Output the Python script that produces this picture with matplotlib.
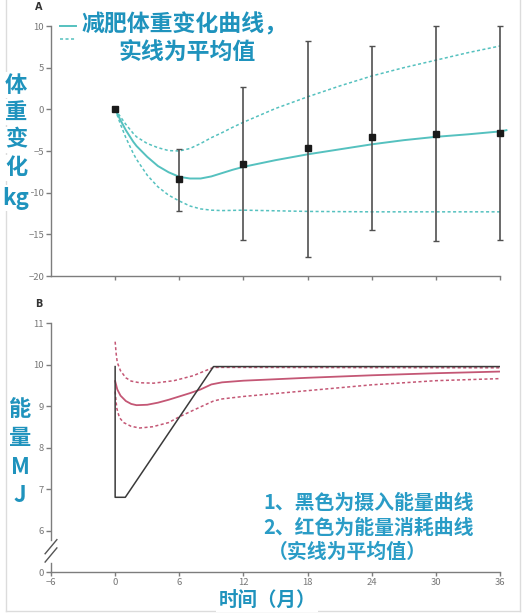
import matplotlib
matplotlib.use('Agg')
import matplotlib.pyplot as plt
from matplotlib.lines import Line2D

plt.rcParams['font.family'] = ['Noto Sans CJK SC', 'DejaVu Sans']

# ---------------- Panel A data: body weight change (kg) ----------------
obs_months = [0, 6, 12, 18, 24, 30, 36]
obs_mean = [0, -8.4, -6.5, -4.6, -3.3, -2.9, -2.8]
obs_low = [0, -12.2, -15.7, -17.7, -14.5, -15.8, -15.7]
obs_high = [0, -4.8, 2.7, 8.2, 7.6, 10.0, 10.0]

wt_months = [0, 0.5, 1, 1.7, 2, 3, 4, 5, 6, 7, 8, 9, 10, 11, 12, 15, 18, 21, 24, 27, 30, 33, 36, 36.6]
wt_mean = [0, -1.3, -2.5, -3.9, -4.4, -5.7, -6.8, -7.55, -8.1, -8.3, -8.3, -8.05, -7.65, -7.25, -6.9,
           -6.1, -5.4, -4.8, -4.2, -3.7, -3.3, -3.0, -2.65, -2.5]
up_months = [0, 0.5, 1, 1.7, 2, 3, 4, 5, 6, 7, 8, 9, 10, 11, 12, 15, 18, 21, 24, 27, 30, 33, 36]
wt_upper = [0, -0.9, -1.8, -2.9, -3.3, -4.1, -4.6, -4.95, -5.0, -4.7, -4.1, -3.4, -2.8, -2.15, -1.55,
            0.1, 1.5, 2.8, 4.0, 5.0, 5.9, 6.8, 7.6]
lo_months = [0, 0.5, 1, 1.7, 2, 3, 4, 5, 6, 7, 8, 9, 10, 12, 18, 24, 30, 36]
wt_lower = [0, -1.8, -3.4, -5.3, -6.0, -7.9, -9.3, -10.3, -11.0, -11.6, -11.95, -12.1, -12.15, -12.1,
            -12.25, -12.3, -12.3, -12.3]

# ---------------- Panel B data: energy (MJ) ----------------
intake_months = [0, 0, 0.95, 9.2, 36]
intake_mj = [9.95, 6.8, 6.8, 9.95, 9.95]

ee_months = [0, 0.2, 0.5, 1, 1.5, 2, 3, 4, 5, 6, 7, 8, 9, 10, 12, 18, 24, 30, 36]
ee_mean = [9.6, 9.4, 9.25, 9.12, 9.05, 9.02, 9.03, 9.08, 9.15, 9.23, 9.31, 9.4, 9.52, 9.57, 9.61,
           9.68, 9.74, 9.79, 9.83]
eeu_months = [0, 0.1, 0.2, 0.5, 1, 1.5, 2.3, 3.6, 5.5, 7.3, 9.2, 12, 36]
ee_upper = [10.55, 10.25, 10.05, 9.85, 9.68, 9.6, 9.56, 9.55, 9.61, 9.73, 9.93, 9.93, 9.92]
eel_months = [0, 0.15, 0.4, 0.8, 1.5, 2.3, 3.5, 5, 6, 7, 8, 9.2, 10, 12, 18, 24, 30, 36]
ee_lower = [9.35, 8.95, 8.72, 8.6, 8.51, 8.47, 8.5, 8.6, 8.74, 8.86, 8.98, 9.12, 9.17, 9.23, 9.37,
            9.51, 9.61, 9.66]

x_ticks = [-6, 0, 6, 12, 18, 24, 30, 36]
a_yticks = [-20, -15, -10, -5, 0, 5, 10]
b_yticks = [5, 6, 7, 8, 9, 10, 11]
b_ylabels = ['0', '6', '7', '8', '9', '10', '11']

TEAL = '#55c1bf'
RED = '#c45775'
TXT = '#1f93bd'
TXT2 = '#2a9cc6'
AX = '#7d7d7d'
TICKLAB = '#777777'

W, H = 525, 616
fig = plt.figure(figsize=(W / 100, H / 100), dpi=100)


def fx(x):
    return x / W


def fy(y):
    return 1 - y / H


def style_axes(ax):
    for s in ['top', 'right']:
        ax.spines[s].set_visible(False)
    for s in ['left', 'bottom']:
        ax.spines[s].set_color(AX)
        ax.spines[s].set_linewidth(1.0)
    ax.tick_params(axis='both', colors=AX, labelcolor=TICKLAB, labelsize=6.8, width=1.0)
    ax.tick_params(axis='y', length=3.5, pad=1.5)
    ax.tick_params(axis='x', length=3.0, pad=1.5)
    ax.patch.set_alpha(0)


# ---------------- Panel A ----------------
axA = fig.add_axes([fx(51), fy(276), fx(449), 250 / H])
style_axes(axA)
axA.set_xlim(-6, 36)
axA.set_ylim(-20, 10)
axA.set_yticks(a_yticks)
axA.set_xticks(x_ticks[1:])
axA.set_xticklabels([])
axA.plot(wt_months, wt_mean, color=TEAL, lw=1.4, clip_on=False, zorder=3)
axA.plot(up_months, wt_upper, color=TEAL, lw=1.1, ls=(0, (2, 1.6)), clip_on=False, zorder=3)
axA.plot(lo_months, wt_lower, color=TEAL, lw=1.1, ls=(0, (2, 1.6)), clip_on=False, zorder=3)
yerr_lo = [m - l for m, l in zip(obs_mean[1:], obs_low[1:])]
yerr_hi = [h - m for m, h in zip(obs_mean[1:], obs_high[1:])]
axA.errorbar(obs_months[1:], obs_mean[1:], yerr=[yerr_lo, yerr_hi], fmt='none', ecolor='#505050',
             elinewidth=1.2, capsize=2.5, capthick=1.0, clip_on=False, zorder=4)
axA.plot(obs_months, obs_mean, ls='none', marker='s', ms=5, color='#1a1a1a', clip_on=False, zorder=5)

# ---------------- Panel B ----------------
axB = fig.add_axes([fx(51), fy(572), fx(449), 249 / H])
style_axes(axB)
axB.set_xlim(-6, 36)
axB.set_ylim(5, 11)
axB.set_yticks(b_yticks)
axB.set_yticklabels(b_ylabels)
axB.set_xticks(x_ticks)
axB.spines['left'].set_visible(False)
# left spine with break
axB.plot([-6, -6], [5.77, 11], color=AX, lw=1.0, clip_on=False)
axB.plot([-6, -6], [5, 5.22], color=AX, lw=1.0, clip_on=False)
for dy in (0.0, 0.2):
    axB.plot([-6.55, -5.45], [5.24 + dy, 5.58 + dy], color='#555555', lw=1.0, clip_on=False)

axB.plot(ee_months, ee_mean, color=RED, lw=1.3, zorder=3)
axB.plot(eeu_months, ee_upper, color=RED, lw=1.1, ls=(0, (2, 1.6)), zorder=3)
axB.plot(eel_months, ee_lower, color=RED, lw=1.1, ls=(0, (2, 1.6)), zorder=3)
axB.plot(intake_months, intake_mj, color='#3a3a3a', lw=1.1, zorder=4)

# ---------------- Border ----------------
border_col = '#dcdcdc'
fig.add_artist(Line2D([fx(6), fx(6)], [fy(0), fy(611)], color=border_col, lw=1.0))
fig.add_artist(Line2D([fx(520), fx(520)], [fy(0), fy(611)], color=border_col, lw=1.0))
fig.add_artist(Line2D([fx(6), fx(520)], [fy(611), fy(611)], color=border_col, lw=1.0))

# ---------------- Texts ----------------
fig.text(fx(39), fy(7), 'A', fontsize=7, fontweight='bold', color='#333333', ha='center', va='center',
         family=['DejaVu Sans'])
fig.text(fx(39), fy(304), 'B', fontsize=7, fontweight='bold', color='#333333', ha='center', va='center',
         family=['DejaVu Sans'])

# legend in panel A
fig.add_artist(Line2D([fx(60), fx(76)], [fy(26), fy(26)], color=TEAL, lw=1.4))
fig.add_artist(Line2D([fx(60), fx(76)], [fy(39), fy(39)], color=TEAL, lw=1.1, ls=(0, (2, 1.6))))
fig.text(fx(81), fy(25), '减肥体重变化曲线，', fontsize=16.5, fontweight='bold', color=TXT,
         ha='left', va='center')
fig.text(fx(187), fy(52), '实线为平均值', fontsize=16.5, fontweight='bold', color=TXT,
         ha='center', va='center')

wbox = dict(facecolor='white', edgecolor='none', pad=1.0)
for ch, y in zip(['体', '重', '变', '化', 'kg'], [85, 112, 140, 168, 198]):
    fig.text(fx(16), fy(y), ch, fontsize=16, fontweight='bold', color=TXT, ha='center', va='center',
             bbox=wbox)
for ch, y in zip(['能', '量', 'M', 'J'], [410, 438, 467, 495]):
    fig.text(fx(20), fy(y), ch, fontsize=16, fontweight='bold', color=TXT, ha='center', va='center',
             bbox=wbox)

fig.text(fx(263), fy(502), '1、黑色为摄入能量曲线', fontsize=14.3, fontweight='bold', color=TXT2,
         ha='left', va='center')
fig.text(fx(263), fy(527), '2、红色为能量消耗曲线', fontsize=14.3, fontweight='bold', color=TXT2,
         ha='left', va='center')
fig.text(fx(268), fy(551), '（实线为平均值）', fontsize=14.3, fontweight='bold', color=TXT2,
         ha='left', va='center')

fig.text(fx(267), fy(600), '时间（月）', fontsize=14, fontweight='bold', color=TXT, ha='center',
         va='center', bbox=dict(facecolor='white', edgecolor='none', pad=2.0))

fig.savefig('out.png', dpi=100)
